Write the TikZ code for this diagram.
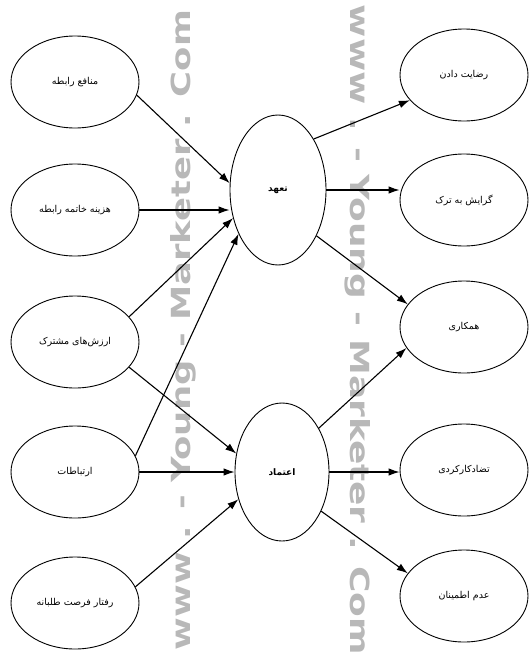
\documentclass[tikz,border=0pt]{standalone}
\usepackage{fontspec}
\usepackage{graphicx}
\usetikzlibrary{shapes.geometric,arrows.meta}
\TeXXeTstate=1
\newfontfamily\fa[Script=Arabic]{DejaVu Sans}
\newfontfamily\wmfont{DejaVu Sans}
\tikzset{
  oval/.style={draw, ellipse, line width=0.9pt, inner sep=0pt,
    minimum width=128pt, minimum height=92pt, font=\fa\fontsize{9.5}{11}\selectfont},
  core/.style={draw, ellipse, line width=0.9pt, inner sep=0pt,
    font=\fa\bfseries\fontsize{9}{11}\selectfont},
  arr/.style={line width=1.1pt, -{Latex[length=11pt,width=7.5pt]}},
  wm/.style={text=black!28, inner sep=0pt}
}
\begin{document}
\begin{tikzpicture}[x=1pt,y=-1pt]
\useasboundingbox (0,0) rectangle (530,659);
% watermark
\node[wm, rotate=90] (wmL) at (183,330) {\resizebox{640pt}{20pt}{\wmfont\bfseries www . - Young - Marketer . Com}};
\node[wm, rotate=-90] (wmR) at (358,330) {\resizebox{650pt}{20pt}{\wmfont\bfseries www . - Young - Marketer . Com}};
% left
\node[oval] (L1) at (75,82) {\beginR منافع رابطه\endR};
\node[oval] (L2) at (75,210) {\beginR هزینه خاتمه رابطه\endR};
\node[oval] (L3) at (75,342) {\beginR ارزش‌های مشترک\endR};
\node[oval] (L4) at (75,472) {\beginR ارتباطات\endR};
\node[oval] (L5) at (75,603) {\beginR رفتار فرصت طلبانه\endR};
% center
\node[core, minimum width=96pt, minimum height=150pt] (C1) at (278,190) {\beginR تعهد\endR};
\node[core, minimum width=94pt, minimum height=138pt] (C2) at (282,472) {\beginR اعتماد\endR};
% right
\node[oval] (R1) at (464,75) {\beginR رضایت دادن\endR};
\node[oval] (R2) at (464,200) {\beginR گرایش به ترک\endR};
\node[oval] (R3) at (464,327) {\beginR همکاری\endR};
\node[oval] (R4) at (464,470) {\beginR تضادکارکردی\endR};
\node[oval] (R5) at (464,596) {\beginR عدم اطمینان\endR};
% arrows in
\draw[arr] (L1.-12) -- (C1.172);
\draw[arr] (L2.east) -- (L2.east -| C1.west);
\draw[arr] (L3.25) -- (C1.212);
\draw[arr] (L3.-25) -- (C2.158);
\draw[arr] (L4.15) -- (C1.228);
\draw[arr] (L4.east) -- (L4.east -| C2.west);
\draw[arr] (L5.15) -- (C2.212);
% arrows out
\draw[arr] (C1.55) -- (R1.205);
\draw[arr] (C1.east) -- (C1.east -| R2.west);
\draw[arr] (C1.-50) -- (R3.158);
\draw[arr] (C2.50) -- (R3.200);
\draw[arr] (C2.east) -- (C2.east -| R4.west);
\draw[arr] (C2.-45) -- (R5.158);
\end{tikzpicture}
\end{document}
